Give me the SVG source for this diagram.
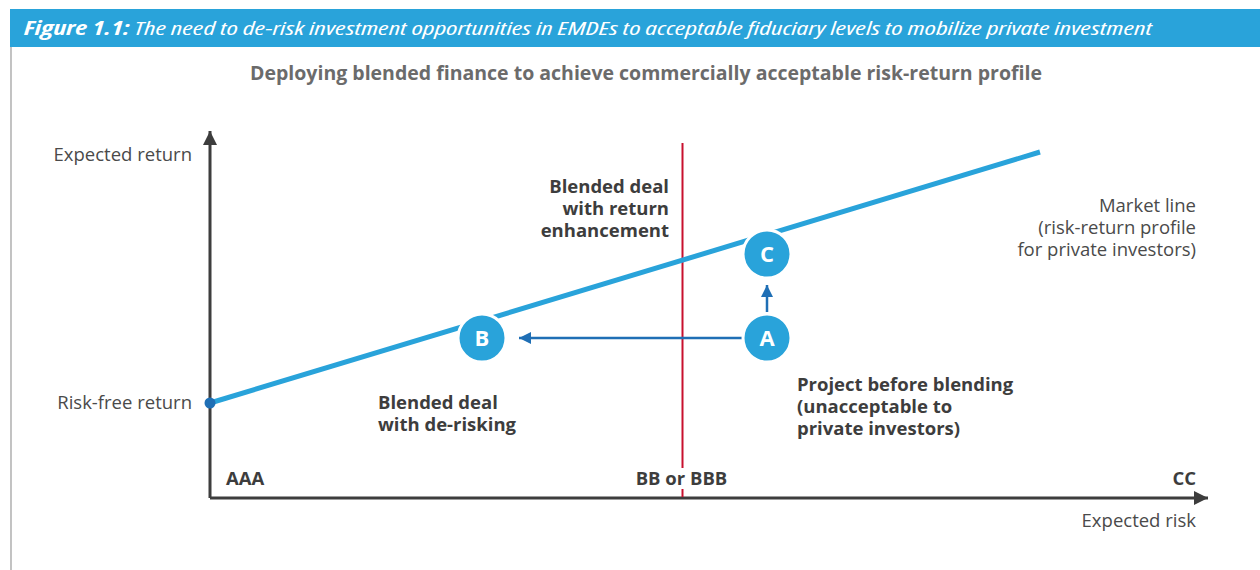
<svg xmlns="http://www.w3.org/2000/svg" width="1260" height="570" viewBox="0 0 1260 570">
<style>
text{font-family:"Open Sans","Liberation Sans",sans-serif;}
.lbl{font-size:18.5px;fill:#4a4a4a;}
.bold{font-size:18.5px;font-weight:700;fill:#3d3d3d;}
.circ{fill:#29a3da;stroke:#ffffff;stroke-width:3;}
.ctext{font-size:22px;font-weight:700;fill:#ffffff;text-anchor:middle;}
.conn{stroke:#1f6fb5;stroke-width:2.5;fill:none;}
</style>
<defs>
<marker id="ah" viewBox="0 0 12 12" refX="12" refY="6" markerWidth="12" markerHeight="12" markerUnits="userSpaceOnUse" orient="auto">
<path d="M0,0 L12,6 L0,12 Z" fill="#1f6fb5"/>
</marker>
<marker id="axh" viewBox="0 0 14 14" refX="14" refY="7" markerWidth="14" markerHeight="14" markerUnits="userSpaceOnUse" orient="auto">
<path d="M0,0 L14,7 L0,14 Z" fill="#3d3d3d"/>
</marker>
</defs>
<rect width="1260" height="570" fill="#ffffff"/>
<g id="header">
<rect x="10" y="9" width="1250" height="38" fill="#29a3da"/>
<text x="24" y="35" font-size="19" font-style="italic" fill="#ffffff" style="font-stretch:condensed" textLength="1128" lengthAdjust="spacingAndGlyphs"><tspan font-weight="700">Figure 1.1:</tspan> The need to de-risk investment opportunities in EMDEs to acceptable fiduciary levels to mobilize private investment</text>
<line x1="11" y1="47" x2="11" y2="570" stroke="#9a9a9a" stroke-width="1.2"/>
</g>
<text id="subtitle" x="646" y="80" font-size="19.5" font-weight="700" fill="#6b6b6b" text-anchor="middle">Deploying blended finance to achieve commercially acceptable risk-return profile</text>
<g id="axes">
<line x1="210" y1="498" x2="210" y2="131" stroke="#3d3d3d" stroke-width="3" marker-end="url(#axh)"/>
<line x1="210" y1="498" x2="1208" y2="498" stroke="#3d3d3d" stroke-width="3" marker-end="url(#axh)"/>
<text class="lbl" x="192" y="161" text-anchor="end">Expected return</text>
<text class="lbl" x="192" y="409" text-anchor="end">Risk-free return</text>
<text class="lbl" x="1196" y="527" text-anchor="end">Expected risk</text>
<text class="bold" x="226" y="485">AAA</text>
<text class="bold" x="681.5" y="485" text-anchor="middle">BB or BBB</text>
<text class="bold" x="1196" y="485" text-anchor="end">CC</text>
</g>
<g id="threshold">
<line x1="682.5" y1="143" x2="682.5" y2="468" stroke="#c8102e" stroke-width="2"/>
<line x1="682.5" y1="489" x2="682.5" y2="497" stroke="#c8102e" stroke-width="2"/>
</g>
<g id="market-line">
<line x1="210" y1="403" x2="1040" y2="152" stroke="#29a3da" stroke-width="5"/>
<circle cx="210" cy="403" r="5.5" fill="#1f6fb5"/>
<text class="lbl" x="1196" y="212" text-anchor="end">Market line</text>
<text class="lbl" x="1196" y="234" text-anchor="end">(risk-return profile</text>
<text class="lbl" x="1196" y="256" text-anchor="end">for private investors)</text>
</g>
<g id="connectors">
<line class="conn" x1="742" y1="338" x2="519" y2="338" marker-end="url(#ah)"/>
<line class="conn" x1="767" y1="312" x2="767" y2="285" marker-end="url(#ah)"/>
</g>
<g id="node-B">
<circle class="circ" cx="482" cy="338" r="24"/>
<text class="ctext" x="482" y="346">B</text>
<text class="bold" x="378" y="409">Blended deal</text>
<text class="bold" x="378" y="431">with de-risking</text>
</g>
<g id="node-A">
<circle class="circ" cx="767" cy="338" r="24"/>
<text class="ctext" x="767" y="346">A</text>
<text class="bold" x="797" y="391">Project before blending</text>
<text class="bold" x="797" y="413">(unacceptable to</text>
<text class="bold" x="797" y="435">private investors)</text>
</g>
<g id="node-C">
<circle class="circ" cx="767" cy="254" r="24"/>
<text class="ctext" x="767" y="262">C</text>
<text class="bold" x="669" y="193" text-anchor="end">Blended deal</text>
<text class="bold" x="669" y="215" text-anchor="end">with return</text>
<text class="bold" x="669" y="237" text-anchor="end">enhancement</text>
</g>
</svg>
